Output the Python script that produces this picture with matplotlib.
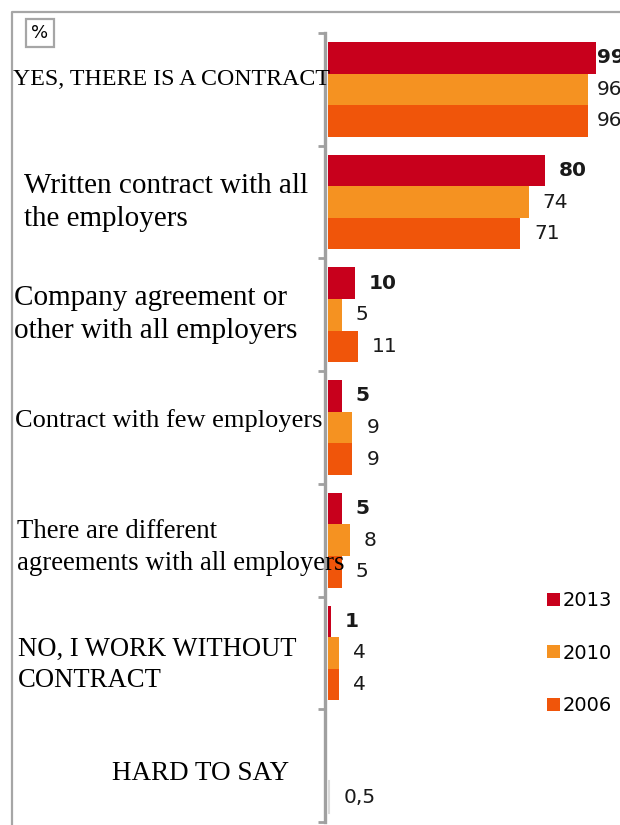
import matplotlib
matplotlib.use("Agg")
import matplotlib.pyplot as plt
from matplotlib.lines import Line2D
from matplotlib.patches import Patch
import matplotlib.transforms as mtransforms

# ---- data -------------------------------------------------------------
categories = [
    "YES, THERE IS A CONTRACT",
    "Written contract with all\nthe employers",
    "Company agreement or\nother with all employers",
    "Contract with few employers",
    "There are different\nagreements with all employers",
    "NO, I WORK WITHOUT\nCONTRACT",
    "HARD TO SAY",
]
years = ["2013", "2010", "2006"]
values_2013 = [99, 80, 10, 5, 5, 1, None]
values_2010 = [96, 74, 5, 9, 8, 4, None]
values_2006 = [96, 71, 11, 9, 5, 4, 0.5]
value_text_2006 = ["96", "71", "11", "9", "5", "4", "0,5"]

# ---- style ------------------------------------------------------------
colors = {"2013": "#c8001c", "2010": "#f59221", "2006": "#f0550a"}
hard_color = "#dadada"
frame_gray = "#a6a6a6"
W, H = 620, 825

fig = plt.figure(figsize=(W / 100, H / 100), dpi=100)
ax_left = 328 / W
ax_bottom = 1 - 822 / H
ax_top = 1 - 33 / H
px_per_unit = 2.71
xmax = (W - 328) / px_per_unit
ax = fig.add_axes([ax_left, ax_bottom, (W - 328) / W, ax_top - ax_bottom])

n = len(categories)
bar_h = 0.28
offsets = {"2013": -0.28, "2010": 0.0, "2006": 0.28}
series = {"2013": values_2013, "2010": values_2010, "2006": values_2006}

label_pad = 14 / px_per_unit
label_max = (597 - 328) / px_per_unit

for yr in years:
    vals = series[yr]
    for i, v in enumerate(vals):
        if v is None:
            continue
        y = i + offsets[yr]
        c = colors[yr]
        if categories[i] == "HARD TO SAY":
            # tiny share: outline it so the sliver stays visible
            ax.barh(y, v, height=bar_h, color=hard_color, edgecolor=hard_color,
                    linewidth=1.5)
        else:
            ax.barh(y, v, height=bar_h, color=c, edgecolor="none")
        if yr == "2006":
            txt = value_text_2006[i]
        else:
            txt = f"{v:g}"
        tx = min(v + label_pad, label_max)
        ax.text(tx, y, txt, ha="left", va="center", fontsize=14.5,
                fontweight="bold" if yr == "2013" else "normal",
                color="#1a1a1a", clip_on=False, family="DejaVu Sans")

ax.set_xlim(0, xmax)
ax.set_ylim(n - 0.5, -0.5)

# category separators as left ticks on the spine
ax.set_yticks([k - 0.5 for k in range(n + 1)])
ax.set_yticklabels([])
ax.tick_params(axis="y", direction="out", length=5, width=2, color="#a0a0a0")
ax.set_xticks([])
for s in ["top", "right", "bottom"]:
    ax.spines[s].set_visible(False)
ax.spines["left"].set_color("#a0a0a0")
ax.spines["left"].set_linewidth(2.4)
ax.spines["left"].set_position(("outward", 2.5))
ax.patch.set_alpha(0)

# category labels (serif, left aligned in the margin)
label_x_px = [13, 24, 14, 15, 17, 18, 112]
label_dy_px = [-10, 0.5, 0, -7, 7.5, 12, 8]
label_size = [17.2, 21, 21, 19, 19.3, 19.2, 19.5]
for i, name in enumerate(categories):
    trans = mtransforms.blended_transform_factory(fig.transFigure, ax.transData)
    trans = trans + mtransforms.ScaledTranslation(0, -label_dy_px[i] / 100, fig.dpi_scale_trans)
    ax.text(label_x_px[i] / W, i, name, transform=trans, ha="left", va="center",
            fontsize=label_size[i], family="Liberation Serif", color="#000000",
            linespacing=1.36, clip_on=False)

# outer frame: left and top edges
fy = 1 - 12 / H
fx = 12 / W
fig.add_artist(Line2D([fx, fx, 1.0], [0, fy, fy], transform=fig.transFigure,
                      color=frame_gray, lw=1.6))

# unit box
fig.text(40 / W, 1 - 33 / H, "%", ha="center", va="center", fontsize=13,
         family="DejaVu Sans",
         bbox=dict(boxstyle="square,pad=0.3", fc="white", ec=frame_gray, lw=1.6))

# legend
handles = [Patch(facecolor=colors[y], edgecolor="none", label=y) for y in years]
fig.legend(handles=handles, loc="upper left", bbox_to_anchor=(547 / W, 1 - 591 / H),
           frameon=False, fontsize=14, handlelength=0.67, handleheight=0.67,
           handletextpad=0.12, labelspacing=1.73, borderaxespad=0, borderpad=0)

fig.savefig("out.png", dpi=100)
